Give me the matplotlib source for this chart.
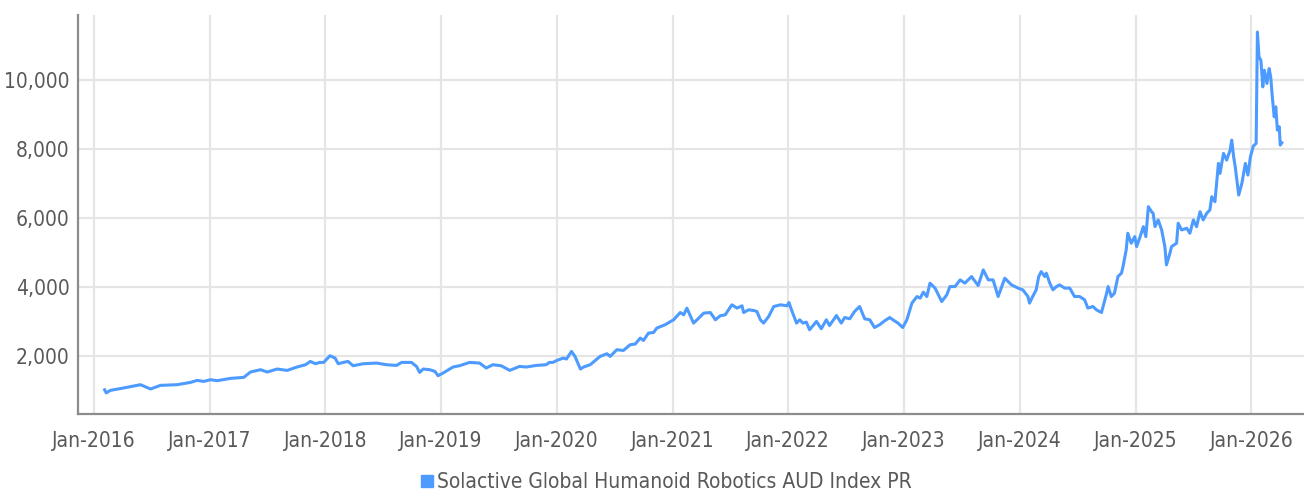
import pandas as pd
import matplotlib
matplotlib.use("Agg")
import matplotlib.pyplot as plt
import matplotlib.dates as mdates
from matplotlib.lines import Line2D
from matplotlib.ticker import FuncFormatter

# values
dates = [
    "2016-02-05", "2016-02-10", "2016-02-23", "2016-04-05", "2016-05-28", "2016-06-29",
    "2016-07-30", "2016-09-21", "2016-11-02", "2016-11-23", "2016-12-14", "2017-01-04",
    "2017-01-25", "2017-03-08", "2017-04-19", "2017-05-10", "2017-06-11", "2017-07-02",
    "2017-08-02", "2017-09-03", "2017-10-04", "2017-10-31", "2017-11-15", "2017-12-01",
    "2017-12-15", "2017-12-27", "2018-01-16", "2018-02-01", "2018-02-11", "2018-02-27",
    "2018-03-14", "2018-03-30", "2018-05-01", "2018-06-12", "2018-07-13", "2018-08-14",
    "2018-08-30", "2018-09-30", "2018-10-16", "2018-10-26", "2018-11-06", "2018-11-27",
    "2018-12-13", "2018-12-23", "2019-01-08", "2019-02-08", "2019-03-01", "2019-04-01",
    "2019-05-03", "2019-05-24", "2019-06-14", "2019-07-10", "2019-08-06", "2019-09-06",
    "2019-09-27", "2019-10-29", "2019-11-29", "2019-12-09", "2019-12-20", "2020-01-02",
    "2020-01-22", "2020-02-01", "2020-02-17", "2020-02-28", "2020-03-16", "2020-03-26",
    "2020-04-16", "2020-05-17", "2020-06-08", "2020-06-18", "2020-07-09", "2020-07-30",
    "2020-08-20", "2020-09-05", "2020-09-21", "2020-10-01", "2020-10-17", "2020-11-02",
    "2020-11-12", "2020-12-08", "2021-01-04", "2021-01-25", "2021-02-05", "2021-02-15",
    "2021-03-08", "2021-03-19", "2021-04-09", "2021-04-30", "2021-05-16", "2021-05-31",
    "2021-06-16", "2021-07-07", "2021-07-23", "2021-08-08", "2021-08-13", "2021-08-29",
    "2021-09-14", "2021-09-24", "2021-10-05", "2021-10-15", "2021-10-31", "2021-11-16",
    "2021-12-07", "2021-12-28", "2022-01-03", "2022-01-11", "2022-01-27", "2022-02-06",
    "2022-02-16", "2022-02-27", "2022-03-09", "2022-03-31", "2022-04-15", "2022-05-01",
    "2022-05-11", "2022-06-02", "2022-06-17", "2022-06-28", "2022-07-14", "2022-07-29",
    "2022-08-14", "2022-08-30", "2022-09-15", "2022-09-30", "2022-10-16", "2022-11-01",
    "2022-11-17", "2022-11-27", "2022-12-13", "2022-12-28", "2023-01-10", "2023-01-26",
    "2023-02-11", "2023-02-21", "2023-03-03", "2023-03-14", "2023-03-24", "2023-04-09",
    "2023-04-30", "2023-05-16", "2023-05-26", "2023-06-11", "2023-06-27", "2023-07-12",
    "2023-08-02", "2023-08-23", "2023-09-08", "2023-09-24", "2023-10-09", "2023-10-25",
    "2023-11-15", "2023-12-06", "2023-12-27", "2024-01-11", "2024-01-27", "2024-02-01",
    "2024-02-11", "2024-02-22", "2024-03-01", "2024-03-09", "2024-03-20", "2024-03-25",
    "2024-04-05", "2024-04-15", "2024-04-26", "2024-05-06", "2024-05-22", "2024-06-07",
    "2024-06-22", "2024-07-08", "2024-07-24", "2024-08-03", "2024-08-19", "2024-08-30",
    "2024-09-15", "2024-09-23", "2024-09-30", "2024-10-06", "2024-10-16", "2024-10-26",
    "2024-11-06", "2024-11-17", "2024-11-22", "2024-12-02", "2024-12-07", "2024-12-18",
    "2024-12-29", "2025-01-04", "2025-01-15", "2025-01-25", "2025-02-02", "2025-02-10",
    "2025-02-20", "2025-02-25", "2025-03-03", "2025-03-13", "2025-03-24", "2025-04-03",
    "2025-04-08", "2025-04-19", "2025-04-24", "2025-05-10", "2025-05-15", "2025-05-26",
    "2025-06-11", "2025-06-21", "2025-07-02", "2025-07-12", "2025-07-23", "2025-08-02",
    "2025-08-13", "2025-08-23", "2025-08-29", "2025-09-08", "2025-09-19", "2025-09-24",
    "2025-10-05", "2025-10-15", "2025-10-26", "2025-10-31", "2025-11-06", "2025-11-11",
    "2025-11-22", "2025-12-02", "2025-12-13", "2025-12-21", "2025-12-29", "2026-01-07",
    "2026-01-16", "2026-01-20", "2026-01-25", "2026-01-31", "2026-02-06", "2026-02-11",
    "2026-02-19", "2026-02-26", "2026-03-03", "2026-03-08", "2026-03-14", "2026-03-19",
    "2026-03-24", "2026-03-30", "2026-04-02", "2026-04-07",
]
values = [
    1010, 920, 994, 1064, 1159, 1034,
    1139, 1159, 1226, 1284, 1255, 1304,
    1275, 1342, 1371, 1527, 1594, 1527,
    1614, 1574, 1672, 1739, 1835, 1768,
    1806, 1806, 2000, 1932, 1768, 1806,
    1835, 1710, 1768, 1787, 1739, 1719,
    1806, 1806, 1690, 1516, 1614, 1594,
    1545, 1420, 1498, 1672, 1710, 1806,
    1787, 1643, 1739, 1710, 1574, 1690,
    1672, 1719, 1739, 1806, 1806, 1864,
    1932, 1904, 2125, 1980, 1614, 1672,
    1739, 1980, 2058, 1980, 2174, 2154,
    2319, 2339, 2513, 2444, 2658, 2676,
    2803, 2899, 3044, 3255, 3189, 3383,
    2948, 3044, 3237, 3255, 3044, 3160,
    3189, 3479, 3383, 3450, 3255, 3334,
    3313, 3284, 3044, 2948, 3139, 3429,
    3479, 3450, 3545, 3334, 2948, 3044,
    2948, 2977, 2754, 2996, 2783, 3044,
    2878, 3168, 2948, 3110, 3073, 3284,
    3429, 3073, 3044, 2820, 2899, 3015,
    3110, 3044, 2948, 2820, 3044, 3528,
    3719, 3672, 3847, 3719, 4108, 3963,
    3574, 3768, 4009, 4009, 4203, 4108,
    4299, 4038, 4493, 4203, 4203, 3719,
    4252, 4058, 3963, 3913, 3719, 3528,
    3719, 3913, 4299, 4444, 4299, 4397,
    4108, 3913, 4009, 4058, 3963, 3963,
    3719, 3719, 3623, 3383, 3429, 3334,
    3255, 3528, 3768, 4009, 3719, 3817,
    4299, 4397, 4589, 5073, 5557, 5267,
    5459, 5169, 5459, 5748, 5459, 6328,
    6183, 6135, 5750, 5943, 5650, 5169,
    4638, 4977, 5169, 5267, 5847, 5653,
    5702, 5557, 5943, 5748, 6183, 5943,
    6135, 6232, 6618, 6473, 7586, 7296,
    7876, 7682, 7972, 8262, 7779, 7489,
    6667, 7006, 7586, 7247, 7779, 8088,
    8166, 11400, 10677, 10580, 9807, 10291,
    9905, 10339, 10097, 9517, 8938, 9228,
    8552, 8648, 8117, 8184,
]
series_name = "Solactive Global Humanoid Robotics AUD Index PR"
y_ticks = [2000, 4000, 6000, 8000, 10000]
x_years = list(range(2016, 2027))

line_color = "#4d9bff"
text_color = "#595959"

# condensed look: DejaVu Sans Condensed if present, else plain
plt.rcParams["font.family"] = ["DejaVu Sans"]
plt.rcParams["font.stretch"] = "condensed"

x = pd.to_datetime(dates)

fig = plt.figure(figsize=(13.04, 4.96), dpi=100)
ax = fig.add_axes([78 / 1304, 82 / 496, 1 - 78 / 1304, (414 - 15) / 496])

ax.plot(x, values, color=line_color, linewidth=2.2, solid_joinstyle="round")

ax.set_xlim(pd.Timestamp("2015-11-13"), pd.Timestamp("2026-06-16"))
ax.set_ylim(308, 11895)

ax.set_xticks([pd.Timestamp(f"{y}-01-01") for y in x_years])
ax.xaxis.set_major_formatter(mdates.DateFormatter("Jan-%Y"))
ax.set_yticks(y_ticks)
ax.yaxis.set_major_formatter(FuncFormatter(lambda v, p: f"{int(v):,}"))

ax.grid(True, color="#e5e5e5", linewidth=1.6)
ax.set_axisbelow(True)
for s in ["top", "right"]:
    ax.spines[s].set_visible(False)
for s in ["left", "bottom"]:
    ax.spines[s].set_color("#8c8c8c")
    ax.spines[s].set_linewidth(1.6)

ax.tick_params(length=0, labelsize=15, labelcolor=text_color)
ax.tick_params(axis="y", pad=6)
ax.tick_params(axis="x", pad=12)

handle = Line2D([], [], marker="s", linestyle="none", color=line_color, markersize=8)
fig.legend([handle], [series_name], loc="center", bbox_to_anchor=(0.51, 14 / 496),
           frameon=False, fontsize=15, labelcolor=text_color,
           handletextpad=0.05, handlelength=0.8)

fig.savefig("out.png", dpi=100)
